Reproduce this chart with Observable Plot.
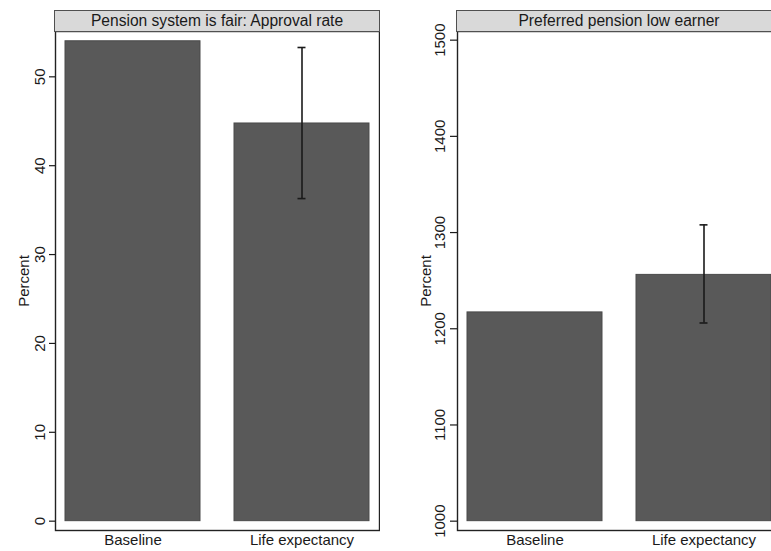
<!DOCTYPE html>
<html><head><meta charset="utf-8">
<script src="https://cdn.jsdelivr.net/npm/d3@7"></script>
<script src="https://cdn.jsdelivr.net/npm/@observablehq/plot@0.6"></script>
<style>
html,body{margin:0;padding:0;background:#fff;overflow:hidden;width:771px;height:551px;}
.panel{position:absolute;top:0;}
.panel svg{max-width:none !important;}
.strip{position:absolute;top:10px;height:20px;background:#d9d9d9;border:1px solid #505050;
  font-family:"Liberation Sans",Arial,sans-serif;font-size:15.6px;line-height:20px;color:#1a1a1a;text-align:center;box-sizing:content-box;}
</style>
</head><body>
<div id="left" class="panel" style="left:0;width:380px"></div>
<div id="right" class="panel" style="left:380px;width:401px"></div>
<script>
const groups = ["Baseline", "Life expectancy"];
const titles = ["Pension system is fair: Approval rate", "Preferred pension low earner"];
const yLabel = "Percent";
const fairValues = [54.0, 44.75];
const fairLow = [null, 36.3];
const fairHigh = [null, 53.3];
const fairTicks = [0, 10, 20, 30, 40, 50];
const pensionValues = [1217, 1256];
const pensionLow = [null, 1206];
const pensionHigh = [null, 1308];
const pensionTicks = [1000, 1100, 1200, 1300, 1400, 1500];

function panel({values, low, high, ticks, base, domain, marginLeft, width, tickSize, tickPadding}) {
  const data = groups.map((g, i) => ({group: g, value: values[i], low: low[i], high: high[i]}));
  const err = data.filter(d => d.low != null);
  const ink = "#1a1a1a";
  const plot = Plot.plot({
    width, height: 551,
    marginTop: 31, marginBottom: 21, marginLeft, marginRight: width - marginLeft - 324,
    style: {fontFamily: '"Liberation Sans", Arial, sans-serif', fontSize: "15px", color: ink, background: "transparent", maxWidth: "none"},
    x: {type: "band", domain: groups, paddingInner: 0.2, paddingOuter: 0.058},
    y: {domain},
    marks: [
      Plot.barY(data, {x: "group", y1: base, y2: "value", fill: "#595959", stroke: "#4a4a4a", strokeWidth: 1}),
      Plot.ruleX(err, {x: "group", y1: "low", y2: "high", stroke: ink, strokeWidth: 1.6}),
      Plot.tickY(err, {x: "group", y: "low", insetLeft: 63.5, insetRight: 63.5, stroke: ink, strokeWidth: 1.6}),
      Plot.tickY(err, {x: "group", y: "high", insetLeft: 63.5, insetRight: 63.5, stroke: ink, strokeWidth: 1.6}),
      Plot.frame({stroke: "#222", strokeWidth: 1.4}),
      Plot.axisY({ticks, tickFormat: d => String(d), tickSize, tickPadding, tickRotate: -90, label: yLabel, labelAnchor: "center", labelOffset: 37, labelArrow: "none", stroke: ink, strokeWidth: 1.2}),
      Plot.axisX({tickSize: 0, tickPadding: 4, label: null})
    ]
  });
  plot.style.maxWidth = "none";
  return plot;
}

function mount(id, opts) {
  const el = document.getElementById(id);
  el.appendChild(panel(opts));
  const strip = document.createElement("div");
  strip.className = "strip";
  strip.style.left = (opts.marginLeft - 1) + "px";
  strip.style.width = "324px";
  strip.textContent = opts.title;
  el.appendChild(strip);
}

mount("left", {values: fairValues, low: fairLow, high: fairHigh, ticks: fairTicks, base: 0,
  domain: [-1.05, 55.1], marginLeft: 55, width: 380, title: titles[0], tickSize: 6, tickPadding: 5});
mount("right", {values: pensionValues, low: pensionLow, high: pensionHigh, ticks: pensionTicks, base: 1000,
  domain: [990.3, 1509], marginLeft: 77, width: 401, title: titles[1], tickSize: 7, tickPadding: 6});
</script>
</body></html>
